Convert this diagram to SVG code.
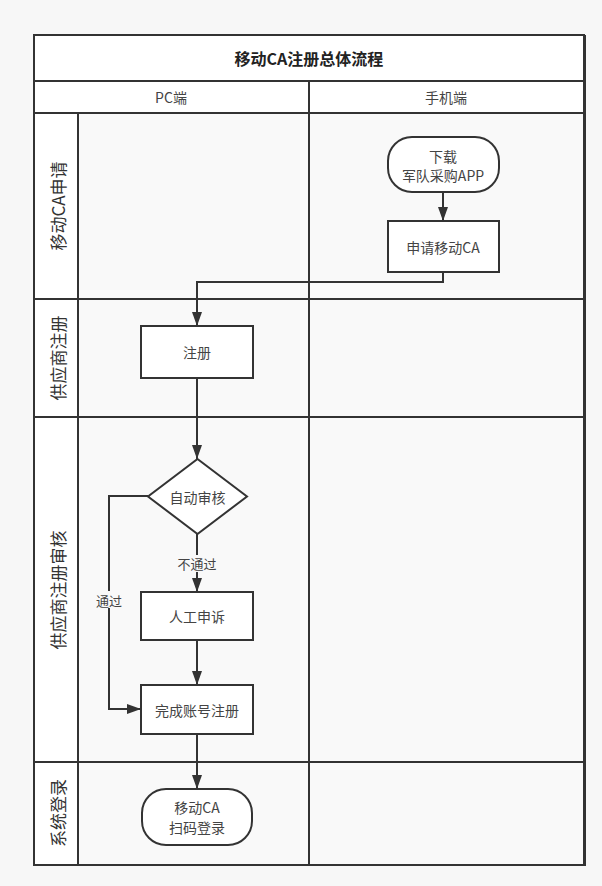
<svg xmlns="http://www.w3.org/2000/svg" width="602" height="886" viewBox="0 0 602 886">
<style>
text{font-family:"Noto Sans CJK SC","Liberation Sans",sans-serif;fill:#333;text-anchor:middle;dominant-baseline:central}
.frame{fill:none;stroke:#333;stroke-width:2}
.cell{fill:#f9f9f9;stroke:#333;stroke-width:2}
.hdr{fill:#fff;stroke:#333;stroke-width:2}
.node{fill:#fff;stroke:#333;stroke-width:2}
.edge{fill:none;stroke:#333;stroke-width:2}
.t{font-size:14px;fill:#444}
.lane{font-size:17px;fill:#333}
.lbl{font-size:13px;fill:#444}
</style>
<defs>
<marker id="arr" viewBox="0 0 14 10" refX="14" refY="5" markerWidth="7" markerHeight="5" markerUnits="strokeWidth" orient="auto">
<path d="M0,0 L14,5 L0,10 z" fill="#333"/>
</marker>
</defs>
<rect x="0" y="0" width="602" height="886" fill="#f7f7f7"/>
<g id="pool">
<rect class="hdr" x="34" y="35" width="550" height="46"/>
<text x="309" y="58" style="font-size:16px;font-weight:bold;fill:#222">移动CA注册总体流程</text>
<rect class="hdr" x="34" y="81" width="275" height="32"/>
<rect class="hdr" x="309" y="81" width="275" height="32"/>
<text class="t" x="171" y="97">PC端</text>
<text class="t" x="446" y="97">手机端</text>
</g>
<g id="lanes">
<rect class="hdr" x="34" y="113" width="44" height="186"/>
<rect class="cell" x="78" y="113" width="231" height="186"/>
<rect class="cell" x="309" y="113" width="275" height="186"/>
<text class="lane" transform="translate(57,206) rotate(-90)">移动CA申请</text>
<rect class="hdr" x="34" y="299" width="44" height="118"/>
<rect class="cell" x="78" y="299" width="231" height="118"/>
<rect class="cell" x="309" y="299" width="275" height="118"/>
<text class="lane" transform="translate(57,358) rotate(-90)">供应商注册</text>
<rect class="hdr" x="34" y="417" width="44" height="345"/>
<rect class="cell" x="78" y="417" width="231" height="345"/>
<rect class="cell" x="309" y="417" width="275" height="345"/>
<text class="lane" transform="translate(57,590) rotate(-90)">供应商注册审核</text>
<rect class="hdr" x="34" y="762" width="44" height="103"/>
<rect class="cell" x="78" y="762" width="231" height="103"/>
<rect class="cell" x="309" y="762" width="275" height="103"/>
<text class="lane" transform="translate(57,813) rotate(-90)">系统登录</text>
<line x1="585" y1="35" x2="585" y2="866" stroke="#333" stroke-width="2"/>
</g>
<g id="connectors">
<path class="edge" d="M443,192 V221" marker-end="url(#arr)"/>
<path class="edge" d="M443,272 V282 H197 V326" marker-end="url(#arr)"/>
<path class="edge" d="M197,378 V459" marker-end="url(#arr)"/>
<path class="edge" d="M197,534 V592" marker-end="url(#arr)"/>
<path class="edge" d="M148,496 H109 V709 H141" marker-end="url(#arr)"/>
<path class="edge" d="M197,640 V685" marker-end="url(#arr)"/>
<path class="edge" d="M197,734 V789" marker-end="url(#arr)"/>
<rect x="176" y="555" width="42" height="17" fill="#f9f9f9"/>
<text class="lbl" x="197" y="563">不通过</text>
<rect x="94" y="591" width="30" height="17" fill="#f9f9f9"/>
<text class="lbl" x="109" y="600">通过</text>
</g>
<g id="n_download">
<rect class="node" x="388" y="137" width="111" height="55" rx="24"/>
<text class="t" x="443" y="156">下载</text>
<text class="t" x="443" y="175">军队采购APP</text>
</g>
<g id="n_apply">
<rect class="node" x="388" y="221" width="111" height="51"/>
<text class="t" x="443" y="247">申请移动CA</text>
</g>
<g id="n_register">
<rect class="node" x="141" y="326" width="112" height="52"/>
<text class="t" x="197" y="352">注册</text>
</g>
<g id="n_auto">
<polygon class="node" points="197.5,459 247,496.5 197.5,534 148,496.5"/>
<text class="t" x="197.5" y="497">自动审核</text>
</g>
<g id="n_appeal">
<rect class="node" x="141" y="592" width="112" height="48"/>
<text class="t" x="197" y="616">人工申诉</text>
</g>
<g id="n_done">
<rect class="node" x="141" y="685" width="112" height="49"/>
<text class="t" x="197" y="710">完成账号注册</text>
</g>
<g id="n_login">
<rect class="node" x="142" y="789" width="110" height="56" rx="24"/>
<text class="t" x="197" y="807">移动CA</text>
<text class="t" x="197" y="827">扫码登录</text>
</g>
</svg>
